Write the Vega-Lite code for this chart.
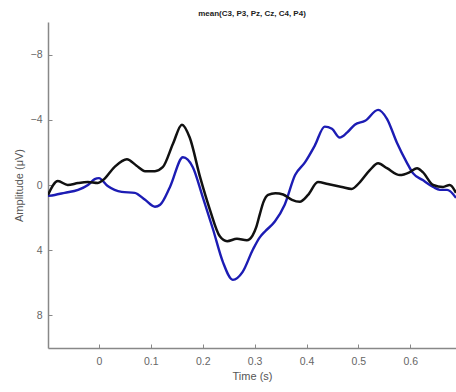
{
  "$schema": "https://vega.github.io/schema/vega-lite/v6.json",
  "autosize": {"type": "none"},
  "width": 408,
  "height": 326,
  "padding": {"left": 48, "top": 22, "right": 0, "bottom": 44},
  "background": "white",
  "config": {
    "view": {"stroke": null},
    "font": "Liberation Sans"
  },
  "title": {
    "text": "mean(C3, P3, Pz, Cz, C4, P4)",
    "fontSize": 8,
    "fontWeight": "bold",
    "color": "#222",
    "anchor": "middle",
    "offset": 4
  },
  "datasets": {
    "erp": [
      {"t": -0.098, "v": 0.61, "s": "black"},
      {"t": -0.079, "v": -0.24, "s": "black"},
      {"t": -0.060, "v": 0.0, "s": "black"},
      {"t": -0.040, "v": -0.12, "s": "black"},
      {"t": -0.021, "v": -0.18, "s": "black"},
      {"t": -0.002, "v": -0.12, "s": "black"},
      {"t": 0.008, "v": -0.30, "s": "black"},
      {"t": 0.030, "v": -1.1, "s": "black"},
      {"t": 0.054, "v": -1.58, "s": "black"},
      {"t": 0.072, "v": -1.2, "s": "black"},
      {"t": 0.089, "v": -0.85, "s": "black"},
      {"t": 0.108, "v": -0.85, "s": "black"},
      {"t": 0.123, "v": -1.09, "s": "black"},
      {"t": 0.143, "v": -2.55, "s": "black"},
      {"t": 0.160, "v": -3.70, "s": "black"},
      {"t": 0.175, "v": -2.91, "s": "black"},
      {"t": 0.195, "v": -0.48, "s": "black"},
      {"t": 0.214, "v": 1.52, "s": "black"},
      {"t": 0.233, "v": 3.15, "s": "black"},
      {"t": 0.247, "v": 3.45, "s": "black"},
      {"t": 0.266, "v": 3.30, "s": "black"},
      {"t": 0.285, "v": 3.39, "s": "black"},
      {"t": 0.296, "v": 3.1, "s": "black"},
      {"t": 0.303, "v": 2.6, "s": "black"},
      {"t": 0.310, "v": 1.8, "s": "black"},
      {"t": 0.317, "v": 1.05, "s": "black"},
      {"t": 0.326, "v": 0.6, "s": "black"},
      {"t": 0.340, "v": 0.5, "s": "black"},
      {"t": 0.355, "v": 0.58, "s": "black"},
      {"t": 0.372, "v": 0.91, "s": "black"},
      {"t": 0.387, "v": 1.03, "s": "black"},
      {"t": 0.403, "v": 0.61, "s": "black"},
      {"t": 0.422, "v": -0.18, "s": "black"},
      {"t": 0.441, "v": -0.06, "s": "black"},
      {"t": 0.468, "v": 0.12, "s": "black"},
      {"t": 0.487, "v": 0.24, "s": "black"},
      {"t": 0.503, "v": -0.18, "s": "black"},
      {"t": 0.522, "v": -0.91, "s": "black"},
      {"t": 0.538, "v": -1.33, "s": "black"},
      {"t": 0.555, "v": -1.03, "s": "black"},
      {"t": 0.580, "v": -0.61, "s": "black"},
      {"t": 0.599, "v": -0.79, "s": "black"},
      {"t": 0.613, "v": -1.03, "s": "black"},
      {"t": 0.624, "v": -0.79, "s": "black"},
      {"t": 0.644, "v": 0.0, "s": "black"},
      {"t": 0.663, "v": 0.12, "s": "black"},
      {"t": 0.676, "v": 0.0, "s": "black"},
      {"t": 0.688, "v": 0.48, "s": "black"},
      {"t": -0.098, "v": 0.67, "s": "blue"},
      {"t": -0.085, "v": 0.61, "s": "blue"},
      {"t": -0.066, "v": 0.48, "s": "blue"},
      {"t": -0.040, "v": 0.30, "s": "blue"},
      {"t": -0.021, "v": 0.0, "s": "blue"},
      {"t": -0.008, "v": -0.36, "s": "blue"},
      {"t": 0.0, "v": -0.42, "s": "blue"},
      {"t": 0.017, "v": 0.06, "s": "blue"},
      {"t": 0.044, "v": 0.42, "s": "blue"},
      {"t": 0.069, "v": 0.48, "s": "blue"},
      {"t": 0.089, "v": 0.91, "s": "blue"},
      {"t": 0.108, "v": 1.33, "s": "blue"},
      {"t": 0.118, "v": 1.21, "s": "blue"},
      {"t": 0.137, "v": 0.12, "s": "blue"},
      {"t": 0.162, "v": -1.70, "s": "blue"},
      {"t": 0.181, "v": -1.09, "s": "blue"},
      {"t": 0.200, "v": 0.73, "s": "blue"},
      {"t": 0.220, "v": 2.73, "s": "blue"},
      {"t": 0.239, "v": 4.73, "s": "blue"},
      {"t": 0.258, "v": 5.82, "s": "blue"},
      {"t": 0.277, "v": 5.33, "s": "blue"},
      {"t": 0.297, "v": 3.94, "s": "blue"},
      {"t": 0.310, "v": 3.21, "s": "blue"},
      {"t": 0.320, "v": 2.85, "s": "blue"},
      {"t": 0.339, "v": 2.24, "s": "blue"},
      {"t": 0.358, "v": 1.21, "s": "blue"},
      {"t": 0.378, "v": -0.61, "s": "blue"},
      {"t": 0.397, "v": -1.39, "s": "blue"},
      {"t": 0.416, "v": -2.42, "s": "blue"},
      {"t": 0.435, "v": -3.58, "s": "blue"},
      {"t": 0.449, "v": -3.45, "s": "blue"},
      {"t": 0.464, "v": -2.91, "s": "blue"},
      {"t": 0.478, "v": -3.21, "s": "blue"},
      {"t": 0.493, "v": -3.70, "s": "blue"},
      {"t": 0.513, "v": -3.94, "s": "blue"},
      {"t": 0.538, "v": -4.61, "s": "blue"},
      {"t": 0.555, "v": -4.06, "s": "blue"},
      {"t": 0.574, "v": -2.61, "s": "blue"},
      {"t": 0.593, "v": -1.39, "s": "blue"},
      {"t": 0.605, "v": -0.73, "s": "blue"},
      {"t": 0.624, "v": -0.30, "s": "blue"},
      {"t": 0.644, "v": 0.12, "s": "blue"},
      {"t": 0.657, "v": 0.30, "s": "blue"},
      {"t": 0.671, "v": 0.30, "s": "blue"},
      {"t": 0.688, "v": 0.79, "s": "blue"}
    ]
  },
  "layer": [
    {
      "mark": {"type": "rule", "stroke": "#999999", "strokeDash": [6, 5], "strokeWidth": 1.2},
      "encoding": {"y": {"datum": 0, "type": "quantitative", "scale": {"domain": [-10, 10], "reverse": true}}}
    },
    {
      "mark": {"type": "rule", "stroke": "#999999", "strokeDash": [6, 5], "strokeWidth": 1.2},
      "encoding": {"x": {"datum": 0, "type": "quantitative"}}
    },
    {
      "data": {"name": "erp"},
      "transform": [{"filter": "datum.s === 'blue'"}],
      "mark": {"type": "line", "interpolate": "monotone", "strokeWidth": 2.4, "color": "#1c1cb4", "clip": true},
      "encoding": {
        "x": {"field": "t", "type": "quantitative"},
        "y": {"field": "v", "type": "quantitative"}
      }
    },
    {
      "data": {"name": "erp"},
      "transform": [{"filter": "datum.s === 'black'"}],
      "mark": {"type": "line", "interpolate": "monotone", "strokeWidth": 2.5, "color": "#111111", "clip": true},
      "encoding": {
        "x": {
          "field": "t", "type": "quantitative",
          "scale": {"domain": [-0.098, 0.688], "nice": false, "zero": false},
          "axis": {
            "title": "Time (s)", "values": [0, 0.1, 0.2, 0.3, 0.4, 0.5, 0.6], "format": "~g",
            "grid": false, "domainColor": "#888888", "domainWidth": 1.5,
            "tickColor": "#888888", "tickSize": -4, "labelPadding": 12,
            "labelColor": "#666666", "labelFontSize": 10.5, "titleColor": "#555555",
            "titleFontSize": 11, "titleFontWeight": "normal", "titlePadding": 4
          }
        },
        "y": {
          "field": "v", "type": "quantitative",
          "scale": {"domain": [-10, 10], "reverse": true, "nice": false},
          "axis": {
            "title": "Amplitude (μV)", "values": [-8, -4, 0, 4, 8],
            "grid": false, "domainColor": "#888888", "domainWidth": 1.5,
            "tickColor": "#888888", "tickSize": -4, "labelPadding": 10,
            "labelColor": "#666666", "labelFontSize": 10.5, "titleColor": "#555555",
            "titleFontSize": 11, "titleFontWeight": "normal", "titlePadding": 6
          }
        }
      }
    }
  ]
}
